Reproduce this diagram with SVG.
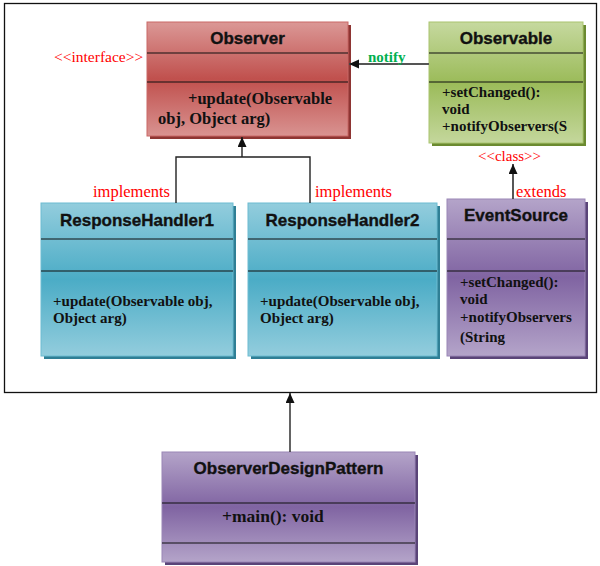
<svg xmlns="http://www.w3.org/2000/svg" width="600" height="566" viewBox="0 0 600 566">
<defs>
<linearGradient id="gRed" x1="0" y1="0" x2="0" y2="1">
<stop offset="0" stop-color="#db9896"/><stop offset="0.5" stop-color="#c0504d"/><stop offset="1" stop-color="#d99391"/>
</linearGradient>
<linearGradient id="gGreen" x1="0" y1="0" x2="0" y2="1">
<stop offset="0" stop-color="#c6d99f"/><stop offset="0.5" stop-color="#9bbb59"/><stop offset="1" stop-color="#c4d79c"/>
</linearGradient>
<linearGradient id="gBlue" x1="0" y1="0" x2="0" y2="1">
<stop offset="0" stop-color="#93cddd"/><stop offset="0.5" stop-color="#4bacc6"/><stop offset="1" stop-color="#93cddd"/>
</linearGradient>
<linearGradient id="gPurple" x1="0" y1="0" x2="0" y2="1">
<stop offset="0" stop-color="#b4a4c9"/><stop offset="0.5" stop-color="#8064a2"/><stop offset="1" stop-color="#b4a4c9"/>
</linearGradient>
<marker id="arr" markerUnits="userSpaceOnUse" markerWidth="10" markerHeight="10" refX="10" refY="4.5" orient="auto">
<path d="M0,0 L10,4.5 L0,9 z" fill="#111"/>
</marker>
</defs>
<style>
.div{stroke:#111;stroke-width:1.2}
.title{font-family:"Liberation Sans",Arial,sans-serif;font-weight:bold;font-size:17px;fill:#111;stroke:#111;stroke-width:0.35;text-anchor:middle}
.m{font-family:"Liberation Serif","Times New Roman",serif;font-weight:bold;font-size:15px;fill:#111}
.lbl{font-family:"Liberation Serif","Times New Roman",serif;fill:#ff0000}
.conn{fill:none;stroke:#222;stroke-width:1.4}
</style>
<rect x="0" y="0" width="600" height="566" fill="#ffffff"/>
<rect id="frame" x="4.5" y="3.5" width="592" height="389" fill="none" stroke="#111" stroke-width="1.3"/>

<g id="observer">
<rect x="150" y="25" width="201" height="114" fill="#8e3533"/>
<rect x="147" y="22" width="201" height="114" fill="url(#gRed)" stroke="#c96966" stroke-width="1"/>
<line class="div" x1="147" y1="53" x2="348" y2="53"/>
<line class="div" x1="147" y1="82" x2="348" y2="82"/>
<text class="title" x="247.5" y="44">Observer</text>
<text class="m" x="188" y="104" style="font-size:16.5px">+update(Observable</text>
<text class="m" x="158" y="124" style="font-size:16.5px">obj, Object arg)</text>
</g>

<g id="observable">
<rect x="432" y="25" width="154" height="121" fill="#6b8a30"/>
<rect x="429" y="22" width="154" height="121" fill="url(#gGreen)" stroke="#a9c46f" stroke-width="1"/>
<line class="div" x1="429" y1="53" x2="583" y2="53"/>
<line class="div" x1="429" y1="82" x2="583" y2="82"/>
<text class="title" x="506" y="44">Observable</text>
<text class="m" x="442" y="97">+setChanged():</text>
<text class="m" x="442" y="114">void</text>
<text class="m" x="442" y="131">+notifyObservers(S</text>
</g>

<g id="responseHandler1">
<rect x="44" y="206" width="192" height="153" fill="#2f7f95"/>
<rect x="41" y="203" width="192" height="153" fill="url(#gBlue)" stroke="#6dbcd1" stroke-width="1"/>
<line class="div" x1="41" y1="239" x2="233" y2="239"/>
<line class="div" x1="41" y1="271" x2="233" y2="271"/>
<text class="title" x="137" y="226">ResponseHandler1</text>
<text class="m" x="53" y="306">+update(Observable obj,</text>
<text class="m" x="53" y="323">Object arg)</text>
</g>

<g id="responseHandler2">
<rect x="251" y="206" width="189" height="153" fill="#2f7f95"/>
<rect x="248" y="203" width="189" height="153" fill="url(#gBlue)" stroke="#6dbcd1" stroke-width="1"/>
<line class="div" x1="248" y1="239" x2="437" y2="239"/>
<line class="div" x1="248" y1="271" x2="437" y2="271"/>
<text class="title" x="342.5" y="226">ResponseHandler2</text>
<text class="m" x="260" y="306">+update(Observable obj,</text>
<text class="m" x="260" y="323">Object arg)</text>
</g>

<g id="eventSource">
<rect x="450" y="202" width="138" height="157" fill="#5a4478"/>
<rect x="447" y="199" width="138" height="157" fill="url(#gPurple)" stroke="#9a86b6" stroke-width="1"/>
<line class="div" x1="447" y1="239" x2="585" y2="239"/>
<line class="div" x1="447" y1="271" x2="585" y2="271"/>
<text class="title" x="516" y="221">EventSource</text>
<text class="m" x="460" y="287">+setChanged():</text>
<text class="m" x="460" y="304">void</text>
<text class="m" x="460" y="322">+notifyObservers</text>
<text class="m" x="460" y="342">(String</text>
</g>

<g id="observerDesignPattern">
<rect x="165" y="455" width="253" height="110" fill="#5a4478"/>
<rect x="162" y="452" width="253" height="110" fill="url(#gPurple)" stroke="#9a86b6" stroke-width="1"/>
<line class="div" x1="162" y1="503" x2="415" y2="503"/>
<line class="div" x1="162" y1="543" x2="415" y2="543"/>
<text class="title" x="288.5" y="474">ObserverDesignPattern</text>
<text class="m" x="222" y="522" style="font-size:17.5px">+main(): void</text>
</g>

<g id="connectors">
<line class="conn" x1="429" y1="64" x2="349" y2="64" style="stroke:#555;stroke-width:1.8" marker-end="url(#arr)"/>
<path class="conn" d="M176,203 V157 H310 V203"/>
<line class="conn" x1="242" y1="157" x2="242" y2="137" marker-end="url(#arr)"/>
<line class="conn" x1="513" y1="199" x2="513" y2="164" style="stroke:#444;stroke-width:1.8" marker-end="url(#arr)"/>
<line class="conn" x1="290" y1="452" x2="290" y2="393" marker-end="url(#arr)"/>
</g>

<g id="labels">
<text class="lbl" x="54" y="62" style="font-size:15.5px">&lt;&lt;interface&gt;&gt;</text>
<text x="368" y="62" style="font-family:'Liberation Serif','Times New Roman',serif;font-weight:bold;font-size:15px;fill:#00b050">notify</text>
<text class="lbl" x="478" y="161" style="font-size:15px">&lt;&lt;class&gt;&gt;</text>
<text class="lbl" x="93" y="197" style="font-size:16.5px">implements</text>
<text class="lbl" x="315" y="197" style="font-size:16.5px">implements</text>
<text class="lbl" x="516" y="197" style="font-size:16.5px">extends</text>
</g>
</svg>
